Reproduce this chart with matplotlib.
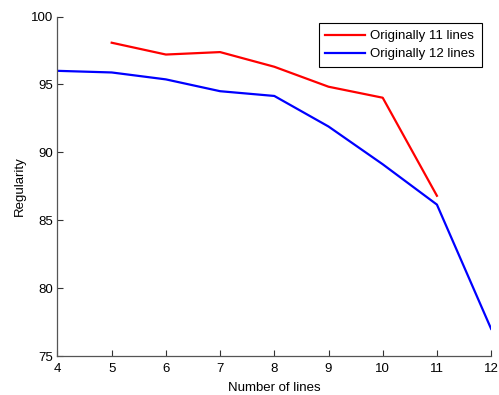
import matplotlib
matplotlib.use("Agg")
import matplotlib.pyplot as plt

# Regularity versus number of lines
x_11 = [5, 6, 7, 8, 9, 10, 11]
reg_11 = [98.07, 97.2, 97.38, 96.3, 94.83, 94.02, 86.8]
x_12 = [4, 5, 6, 7, 8, 9, 10, 11, 12]
reg_12 = [96.0, 95.88, 95.37, 94.5, 94.15, 91.9, 89.12, 86.15, 77.0]
labels = ["Originally 11 lines", "Originally 12 lines"]

plt.rcParams["font.family"] = ["Liberation Sans", "DejaVu Sans"]
FS = 9.5

fig = plt.figure(figsize=(4.99, 3.95), dpi=100)
ax = fig.add_axes([0.1152, 0.0987, 0.869, 0.8595])

ax.plot(x_11, reg_11, color="#ff0000", lw=1.6, label=labels[0])
ax.plot(x_12, reg_12, color="#0000ff", lw=1.6, label=labels[1])

ax.set_xlim(4, 12)
ax.set_ylim(75, 100)
ax.set_xticks(range(4, 13))
ax.set_yticks(range(75, 101, 5))

for s in ["top", "right"]:
    ax.spines[s].set_visible(False)
for s in ["left", "bottom"]:
    ax.spines[s].set_color("#555555")
    ax.spines[s].set_linewidth(0.9)
ax.tick_params(direction="in", length=4, width=0.8, color="#333333",
               labelsize=FS, labelcolor="black")
ax.tick_params(axis="x", pad=5)
ax.tick_params(axis="y", pad=3)

ax.set_xlabel("Number of lines", fontsize=FS, labelpad=5)
ax.set_ylabel("Regularity", fontsize=FS, labelpad=3.5)

leg = ax.legend(loc="upper right", bbox_to_anchor=(0.978, 0.98), fontsize=FS,
                fancybox=False, edgecolor="black", framealpha=1,
                handlelength=3.0, borderpad=0.5, labelspacing=0.45,
                handletextpad=0.4, borderaxespad=0)
leg.get_frame().set_linewidth(0.8)

fig.savefig("out.png", dpi=100)
